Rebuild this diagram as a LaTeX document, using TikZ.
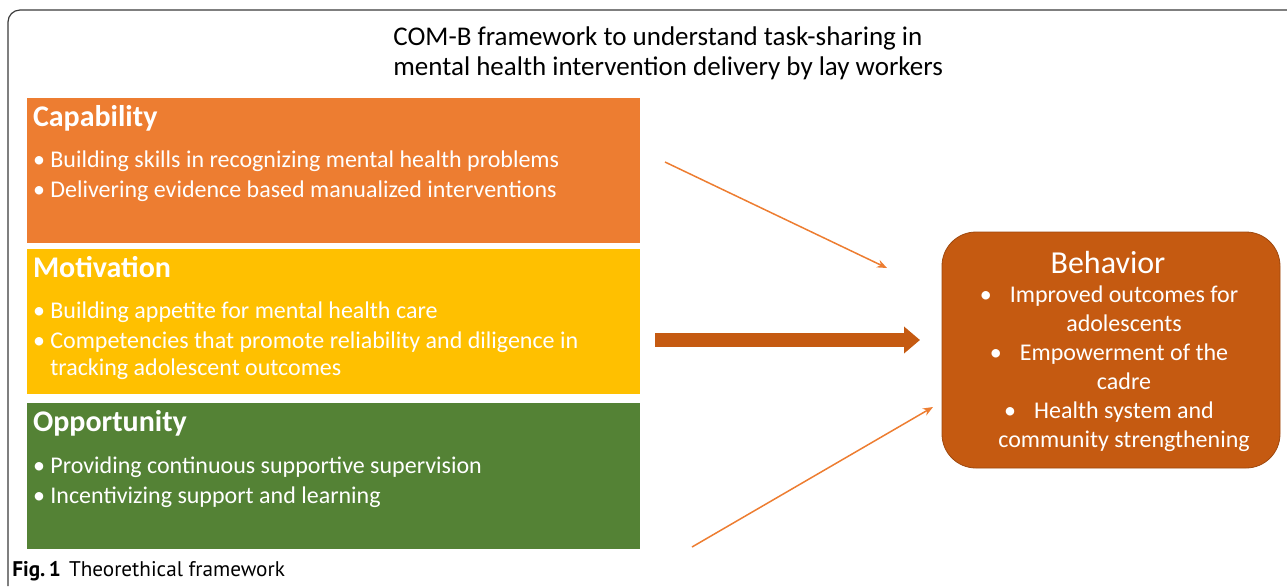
\documentclass[tikz,border=0pt]{standalone}
\usepackage{fontspec}
\setmainfont{Carlito}
\newfontfamily\captionfont{PT Sans}
\usetikzlibrary{positioning, arrows.meta}

\definecolor{capcol}{HTML}{ED7D31}
\definecolor{motcol}{HTML}{FFC000}
\definecolor{oppcol}{HTML}{548235}
\definecolor{behcol}{HTML}{C55A11}
\definecolor{framecol}{HTML}{3A3A3A}

\newcommand{\bul}{\textbullet\ }
\newcommand{\bulgap}{\phantom{\textbullet\ }}
\newcommand{\cbul}{\llap{\textbullet\hspace{9pt}}}

\begin{document}
\begin{tikzpicture}[x=0.5pt, y=-0.5pt, node distance=2.5pt,
  combox/.style={rectangle, minimum width=306.5pt, minimum height=72.5pt, inner sep=0pt},
  comname/.style={anchor=base west, inner sep=0pt, text=white, font=\fontsize{15}{17}\selectfont\bfseries},
  comlist/.style={anchor=base west, inner sep=0pt, text=white, align=left, font=\fontsize{12}{13.5}\selectfont},
  thinarrow/.style={draw=capcol, line width=0.75pt, -{Stealth[length=5pt, width=4pt]}}]
  \useasboundingbox (0,0) rectangle (1287,586);

  % frame and title
  \draw[framecol, line width=0.6pt, rounded corners=6pt] (8,586) -- (8,10) -- (1287,10);
  \node[align=left, anchor=west, inner sep=0pt, font=\fontsize{13.5}{15}\selectfont] (title) at (393,53)
    {COM-B framework to understand task-sharing in\\mental health intervention delivery by lay workers};

  % the three COM boxes
  \node[combox, fill=capcol] (cap) at (333.5,170.5) {};
  \node[combox, fill=motcol] (mot) [below=of cap] {};
  \node[combox, fill=oppcol, minimum height=73pt] (opp) [below=4pt of mot] {};

  % base of a list node = baseline of its last line
  \node[comname] (capname) at ([xshift=3pt, yshift=-14.5pt]cap.north west) {Capability};
  \node[comlist] (caplist) at ([xshift=3pt, yshift=-50pt]cap.north west)
    {\bul Building skills in recognizing mental health problems\\[1.5pt]
     \bul Delivering evidence based manualized interventions};

  \node[comname] (motname) at ([xshift=3pt, yshift=-14.5pt]mot.north west) {Motivation};
  \node[comlist] (motlist) at ([xshift=3pt, yshift=-63.5pt]mot.north west)
    {\bul Building appetite for mental health care\\[1.5pt]
     \bul Competencies that promote reliability and diligence in\\
     \bulgap tracking adolescent outcomes};

  \node[comname] (oppname) at ([xshift=3pt, yshift=-14.5pt]opp.north west) {Opportunity};
  \node[comlist] (opplist) at ([xshift=3pt, yshift=-50.5pt]opp.north west)
    {\bul Providing continuous supportive supervision\\[1.5pt]
     \bul Incentivizing support and learning};

  % behaviour box
  \node[rectangle, rounded corners=17pt, fill=behcol, draw=behcol!80!black, line width=0.4pt,
    minimum width=169pt, minimum height=118pt] (beh) at (1111,350) {};
  \node[anchor=base, inner sep=0pt, text=white, font=\fontsize{16}{18}\selectfont] (behname)
    at ([xshift=-1.5pt, yshift=38.5pt]beh.center) {Behavior};
  \node[anchor=base, inner sep=0pt, text=white, align=center, font=\fontsize{12}{14.5}\selectfont] (behlist)
    at ([xshift=6.5pt, yshift=-48.5pt]beh.center)
    {\cbul Improved outcomes for\\adolescents\\
     \cbul Empowerment of the\\cadre\\
     \cbul Health system and\\community strengthening};

  % arrows
  \coordinate (capfrom) at (665,162);
  \coordinate (capto) at (887,268);
  \coordinate (motfrom) at (655,340);
  \coordinate (motto) at (920,340);
  \coordinate (oppfrom) at (692,547);
  \coordinate (oppto) at (933,407);

  \draw[thinarrow] (capfrom) -- (capto);
  \draw[thinarrow] (oppfrom) -- (oppto);
  \draw[behcol, line width=7pt, -{Triangle[length=8pt, width=13pt]}] (motfrom) -- (motto);

  % caption
  \node[anchor=base west, inner sep=0pt, font=\captionfont\fontsize{10.6}{12}\selectfont] (fig)
    at (12,576) {\textbf{Fig.\,1}\hspace{4pt}Theorethical framework};
\end{tikzpicture}
\end{document}
